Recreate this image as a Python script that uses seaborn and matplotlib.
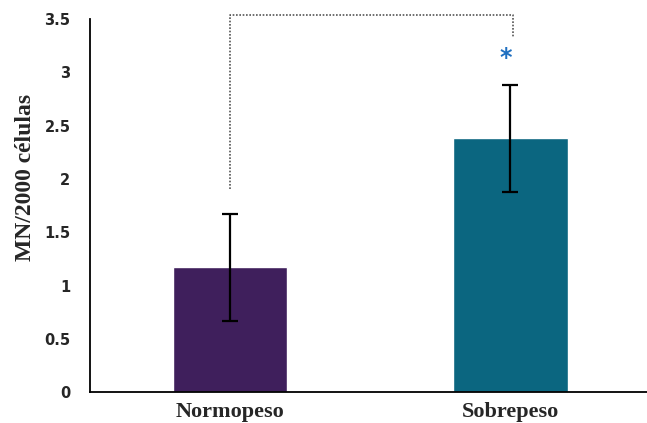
import pandas as pd
import seaborn as sns
import matplotlib.pyplot as plt
import matplotlib.ticker as mtick

# Data
groups = ["Normopeso", "Sobrepeso"]
means = [1.17, 2.38]
errors = [0.50, 0.50]
bar_colors = ["#3f1f5c", "#0b6680"]
y_ticks = [0, 0.5, 1, 1.5, 2, 2.5, 3, 3.5]
bracket_y = [1.91, 3.54, 3.54, 3.33]
star_y = 3.13

df = pd.DataFrame({"grupo": groups, "valor": means, "err": errors})

sns.set_style("white")
fig = plt.figure(figsize=(6.47, 4.23), dpi=100)
ax = fig.add_axes([0.139, 0.073, 0.866, 0.882])

sns.barplot(data=df, x="grupo", y="valor", hue="grupo", palette=bar_colors,
            width=0.41, legend=False, ax=ax, errorbar=None, saturation=1)
ax.errorbar(range(len(groups)), df["valor"], yerr=df["err"], fmt="none",
            ecolor="black", elinewidth=1.6, capsize=6, capthick=1.6)

# significance bracket
ax.plot([0, 0, 1.01, 1.01], bracket_y, linestyle=(0, (1, 1)), color="#555555",
        linewidth=1.2, clip_on=False)
ax.text(0.985, star_y, "*", color="#1f6fc0", fontsize=17, fontweight="bold",
        ha="center", va="center")

ax.set_xlim(-0.5, 1.5)
ax.set_ylim(0, 3.5)
ax.set_yticks(y_ticks)
ax.yaxis.set_major_formatter(mtick.FormatStrFormatter("%g"))
ax.set_xticks([0.5], minor=True)
ax.tick_params(axis="x", which="major", length=0, pad=7)
ax.tick_params(axis="x", which="minor", length=4, direction="in", width=1.2)
ax.tick_params(axis="y", length=4, direction="inout", width=1.2, pad=12)

for lab in ax.get_yticklabels():
    lab.set_fontfamily("DejaVu Sans")
    lab.set_fontweight("bold")
    lab.set_fontsize(10.5)
for lab in ax.get_xticklabels():
    lab.set_fontfamily("Liberation Serif")
    lab.set_fontweight("bold")
    lab.set_fontsize(16)

ax.set_xlabel("")
ax.set_ylabel("MN/2000 células", fontfamily="Liberation Serif", fontweight="bold",
              fontsize=17)
ax.yaxis.set_label_coords(-0.097, 0.576)

sns.despine(ax=ax, top=True, right=True)
for side in ["left", "bottom"]:
    ax.spines[side].set_color("black")
    ax.spines[side].set_linewidth(1.3)

fig.savefig("out.png", dpi=100)
